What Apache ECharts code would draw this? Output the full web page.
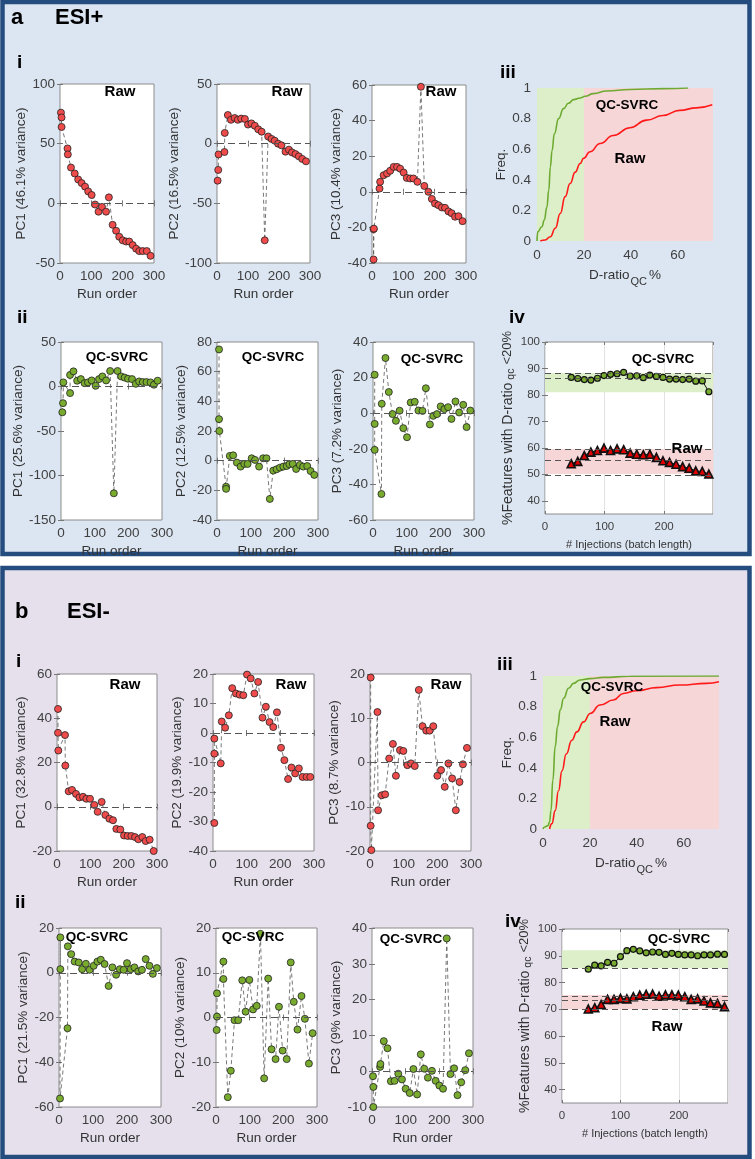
<!DOCTYPE html>
<html>
<head>
<meta charset="UTF-8">
<title>QC-SVRC PCA</title>
<script src="https://cdn.jsdelivr.net/npm/echarts@6/dist/echarts.min.js"></script>
<style>html,body{margin:0;padding:0;background:#fff}</style>
</head>
<body>
<div id="chart" style="width:755px;height:1159px;"></div>
<script>
// ESI+ PCA scores (run order, score)
var aRawPC1 = [[3,76],[5,72],[5,64],[24,46],[25,41],[35,30],[47,25],[58,20],[69,17],[80,14],[90,10],[101,7],[112,-1],[123,-7],[134,-3],[147,-7],[156,5],[168,-18],[179,-23],[189,-28],[200,-31],[211,-32],[221,-32],[232,-35],[243,-38],[253,-40],[264,-40],[277,-40],[289,-44]];
var aRawPC2 = [[2,-31],[4,-22],[5,-9],[24,-7],[25,9],[35,24],[45,20],[57,21.5],[67,20],[78,21],[90,20.7],[100,16],[111,17],[122,15],[133,12],[144,10],[154,-81],[165,6],[176,4],[186,2.5],[197,0],[208,-1.4],[221,-6.7],[232,-5],[242,-7.3],[253,-8.7],[264,-10.6],[275,-12.8],[287,-14.8]];
var aRawPC3 = [[5,-21],[5,-38],[6,-20.7],[24,1.8],[26,5.6],[37,9.3],[48,10.3],[58,11.8],[69,14],[80,14],[90,13],[101,10.8],[111,7.8],[122,7.5],[132,7.5],[145,5.6],[156,59],[167,3.3],[180,0],[191,-4],[201,-6.6],[212,-7.5],[223,-8.8],[233,-9],[244,-11],[254,-12],[265,-14],[276,-13.7],[289,-16.5]];
var aQcPC1 = [[4,-29],[6,-18.7],[7,4.6],[27,-7.4],[27,13],[37,17],[48,6.5],[59,8.3],[70,3.8],[80,4.6],[91,6.8],[103,0.8],[113,8.3],[123,11.3],[134,6.8],[146,17.4],[157,-120],[168,17.4],[179,11.3],[189,10],[199,8.7],[211,8.3],[222,3],[232,5.7],[243,5],[254,5],[266,4.6],[276,2],[287,6.5]];
var aQcPC2 = [[6,75],[6,28],[7,20],[27,-17.5],[27,-19],[38,3.2],[48,3.6],[59,-1.3],[70,-4],[81,-2.2],[91,-2.2],[103,1.6],[113,0.5],[125,-4],[137,1.6],[147,1.6],[157,-25.8],[167,-6.7],[177,-5.8],[187,-4.7],[197,-4],[207,-3.6],[215,-2.4],[225,-2.2],[235,-5.6],[246,-2.9],[256,-4],[268,-3.6],[278,-7],[289,-9.6]];
var aQcPC3 = [[5,21.6],[5,-6],[5,-20.6],[25,-45.4],[26,5.3],[37,31],[47,11.9],[58,-0.5],[68,-4.3],[79,1.4],[90,-8.4],[101,-13.5],[112,6],[124,6.4],[135,1.5],[147,1.3],[157,14],[169,-6.3],[179,-1.5],[190,-0.5],[201,3.8],[212,2.3],[223,3.4],[233,-3.2],[245,6.6],[256,0.4],[268,4.7],[278,-7.8],[289,1.5]];

// ESI- PCA scores
var bRawPC1 = [[3,44.2],[3,33.4],[4,25.4],[24,32.4],[25,18.6],[35,7],[45,7.6],[57,5.8],[67,4.2],[78,4.5],[88,3.6],[99,3.6],[112,0.8],[122,-2.3],[134,2.2],[145,-3.7],[157,-5.4],[168,-6.1],[178,-10],[190,-10.3],[201,-13],[212,-13.2],[223,-13.2],[234,-13.7],[244,-14.7],[256,-13.7],[266,-15.5],[278,-14.9],[290,-20]];
var bRawPC2 = [[4,-30.5],[4,-7],[4,-1.9],[23,-10.3],[26,3.9],[36,1.8],[47,6],[57,15.2],[68,13.4],[79,13],[90,12.8],[101,19.8],[112,18.5],[123,13.4],[134,17.3],[147,5.2],[157,8.9],[168,3.7],[179,2],[190,7],[202,-5],[212,-9.2],[223,-15.6],[233,-11.7],[244,-13.7],[255,-12],[266,-14.9],[278,-14.9],[289,-14.9]];
var bRawPC3 = [[2,19.2],[2,-14.3],[4,-19.8],[22,11.4],[24,-10.8],[35,-7.4],[45,-7.2],[57,0.9],[68,4.2],[77,-3],[89,2.8],[99,2.6],[111,-0.6],[122,-0.2],[133,-0.8],[145,16.4],[156,8.2],[167,7.2],[177,7.2],[188,8.2],[200,-3],[211,-1.7],[222,-5.5],[233,-0.2],[244,-3.6],[255,-10.8],[266,-4.4],[276,-0.4],[288,3.3]];
var bQcPC1 = [[4,1.6],[4,15.8],[3,-56.2],[25,-24.8],[26,11.8],[36,8.3],[46,5],[58,4.6],[68,1.6],[79,4],[90,1.3],[102,3.1],[113,5],[123,5.8],[134,3.9],[146,-5.9],[157,2.4],[168,-0.9],[179,1.6],[190,1.3],[200,4.3],[211,1.6],[222,2.4],[233,0.6],[244,1.3],[255,6.1],[266,3.1],[276,-0.5],[288,2.1]];
var bQcPC2 = [[2,-2.8],[3,0.2],[3,5.4],[22,12.5],[22,8.6],[35,-17.8],[44,-11.9],[55,-0.6],[66,-0.6],[78,8.3],[88,1.3],[99,8.4],[110,1.8],[121,2.6],[132,18.7],[143,-13.6],[155,8.7],[165,-7.1],[177,-9.3],[187,2.4],[198,-7.4],[210,-9.3],[222,12.3],[231,3.5],[242,-2.7],[254,4.8],[264,-0.3],[276,-10.3],[287,-3.5]];
var bQcPC3 = [[3,-1.4],[4,-4.4],[4,-10],[24,1.2],[25,2],[35,8.4],[46,6.4],[56,-2.8],[67,-2.7],[78,-0.7],[89,-2.3],[100,-4.9],[112,-6.1],[123,0.6],[134,-6.5],[145,4.7],[155,0.7],[166,-1.8],[178,0.1],[189,-2.7],[200,-4],[211,-4.9],[222,37.1],[233,-0.8],[244,0.8],[254,-6.7],[265,-3.1],[277,0.3],[288,5]];

// cumulative D-ratio distributions (D-ratio %, frequency)
var aCdfQc = [[0,0],[0.3,0.06],[2.1,0.093],[3.1,0.137],[4.2,0.22],[5,0.33],[5.7,0.485],[6.4,0.59],[7.4,0.7],[9.2,0.8],[11.3,0.865],[13.4,0.9],[15.6,0.924],[18.4,0.935],[20.5,0.946],[24,0.963],[29.7,0.98],[39.6,0.99],[53.7,0.996],[64.4,1]];
var aCdfRaw = [[1.4,0],[3.5,0.007],[5.7,0.028],[7.8,0.083],[9.9,0.18],[12,0.29],[14.1,0.376],[16.3,0.45],[18.4,0.507],[19.8,0.54],[22.6,0.583],[26.9,0.637],[32.5,0.69],[39.6,0.74],[46.7,0.79],[53.7,0.82],[60.8,0.854],[67.9,0.87],[74.7,0.89]];
var bCdfQc = [[0,0],[0.6,0.013],[2.1,0.022],[2.8,0.046],[3.4,0.12],[4.2,0.32],[5.2,0.54],[6.2,0.67],[7.4,0.78],[8.8,0.855],[10.9,0.92],[13,0.952],[15.8,0.974],[20,0.983],[25.7,0.991],[37,0.998],[75,1]];
var bCdfRaw = [[2.8,0],[3.8,0.035],[5.2,0.12],[6.6,0.25],[8.1,0.38],[9.9,0.49],[12.3,0.58],[14.4,0.635],[17.3,0.7],[20.1,0.755],[24.3,0.81],[30,0.843],[34.2,0.886],[39.9,0.904],[48.4,0.924],[58.3,0.941],[69.6,0.952],[75,0.963]];

// % features with D-ratio < 20% vs batch length
var aInj = [44,55,66,77,88,99,110,121,132,143,154,165,176,187,198,209,220,231,242,253,264,275];
var aIvQc = [86.6,86.2,85.8,85.6,86.3,87.3,87.8,88,88.5,87.1,87.2,86.5,87.5,87,86.6,86,86,85.8,86,85.2,85.3,81.2];
var aIvRaw = [54,54.9,57.1,58.4,59,59.9,59,59.6,59.3,58,57.6,57.4,57.6,56.4,55.1,54.5,53.8,52.9,52.3,51.3,51.1,50.1];
var bInj = [45,56,67,78,89,100,111,122,133,144,155,166,177,188,199,210,221,232,243,254,266,278];
var bIvQc = [85,86.5,86.2,87.5,87.2,89.7,91.9,92.4,91.8,91.1,91.4,91.3,90.5,90.9,90.5,90.3,90.3,90,90.3,90.3,90.6,90.5];
var bIvRaw = [70.1,70.6,71.8,73.7,73.7,74.1,73.9,74.7,75.3,75.6,75.7,74.9,75.4,75.4,75.3,74.7,73.7,73.9,73.1,72.4,72.2,71];
var ivTicks = [40,50,60,70,80,90,100];

var FF = '"Liberation Sans", Arial, Helvetica, sans-serif';
var TICK = '#404040';
var RED = '#ef4b4b', GREEN = '#78ab2e';
var BAND_G = '#dcefc8', BAND_R = '#f7d6d8';

var grids = [], xAxes = [], yAxes = [], series = [], graphics = [];

function txt(s, x, y, size, align) {
  graphics.push({type: 'text', z: 100, style: {
    text: s, x: x, y: y, font: 'bold ' + size + 'px ' + FF, fill: '#000',
    textAlign: align || 'center', textVerticalAlign: 'middle',
    align: align || 'center', verticalAlign: 'middle'
  }});
}

function addGrid(r, boxed) {
  grids.push({left: r[0], top: r[1], width: r[2] - r[0], height: r[3] - r[1],
    show: boxed, backgroundColor: '#fff', borderColor: '#8c8c8c', borderWidth: 1});
  return grids.length - 1;
}

// MATLAB-style ticks on top / right of the box
function mirror(i, xa, ya) {
  var tick = {inside: true, length: 3, lineStyle: {color: '#777'}};
  xAxes.push({gridIndex: i, type: 'value', position: 'top', min: xa.min, max: xa.max, interval: xa.interval,
    axisLine: {show: false}, axisLabel: {show: false}, splitLine: {show: false}, axisTick: tick});
  yAxes.push({gridIndex: i, type: 'value', position: 'right', min: ya.min, max: ya.max, interval: ya.interval,
    axisLine: {show: false}, axisLabel: {show: false}, splitLine: {show: false},
    axisTick: ya.axisTick && ya.axisTick.customValues ? Object.assign({customValues: ya.axisTick.customValues}, tick) : tick});
}

function pcPlot(r, data, ylim, yName, yGap, fill) {
  var i = addGrid(r, true);
  var xi = xAxes.length, yi = yAxes.length;
  var xa = {gridIndex: i, type: 'value', min: 0, max: 300, interval: 100,
    axisLine: {show: false}, splitLine: {show: false},
    axisTick: {inside: true, length: 3, lineStyle: {color: '#777'}},
    axisLabel: {fontSize: 13.5, color: TICK, fontFamily: FF, margin: 6},
    name: 'Run order', nameLocation: 'middle', nameGap: 24,
    nameTextStyle: {fontSize: 13.5, color: '#333', fontFamily: FF}};
  var ya = {gridIndex: i, type: 'value', min: ylim[0], max: ylim[1], interval: ylim[2],
    axisLine: {show: false}, splitLine: {show: false},
    axisTick: {inside: true, length: 3, lineStyle: {color: '#777'}},
    axisLabel: {fontSize: 13.5, color: TICK, fontFamily: FF, margin: 5},
    name: yName, nameLocation: 'middle', nameGap: yGap,
    nameTextStyle: {fontSize: 13.5, color: '#333', fontFamily: FF}};
  xAxes.push(xa); yAxes.push(ya);
  mirror(i, xa, ya);
  series.push({type: 'line', xAxisIndex: xi, yAxisIndex: yi, data: data, clip: false,
    symbol: 'circle', symbolSize: 7, showAllSymbol: true,
    itemStyle: {color: fill, borderColor: '#222', borderWidth: 0.8},
    lineStyle: {color: '#555', width: 0.8, type: [4, 3]},
    markLine: {silent: true, symbol: 'none', label: {show: false},
      lineStyle: {color: '#555', type: [7, 4], width: 1}, data: [{yAxis: 0}]}});
}

function cdfPlot(r, qc, raw) {
  var i = addGrid(r, false);
  var xi = xAxes.length, yi = yAxes.length;
  xAxes.push({gridIndex: i, type: 'value', min: 0, max: 75, interval: 20,
    axisLine: {show: false}, axisTick: {show: false}, splitLine: {show: false},
    axisLabel: {fontSize: 13.5, color: TICK, fontFamily: FF, margin: 7, showMaxLabel: false},
    name: '{n|D-ratio}{s|QC}{n|%}', nameLocation: 'middle', nameGap: 22,
    nameTextStyle: {color: '#333', fontFamily: FF, rich: {
      n: {fontSize: 13.5, color: '#333', lineHeight: 24, verticalAlign: 'middle', fontFamily: FF},
      s: {fontSize: 11, color: '#333', lineHeight: 24, verticalAlign: 'bottom', fontFamily: FF, padding: [0, 2, 0, 1]}}}});
  yAxes.push({gridIndex: i, type: 'value', min: 0, max: 1, interval: 0.2,
    axisLine: {show: false}, axisTick: {show: false}, splitLine: {show: false},
    axisLabel: {fontSize: 13.5, color: TICK, fontFamily: FF, margin: 6},
    name: 'Freq.', nameLocation: 'middle', nameGap: 24,
    nameTextStyle: {fontSize: 13.5, color: '#333', fontFamily: FF}});
  series.push({type: 'line', xAxisIndex: xi, yAxisIndex: yi, data: raw, showSymbol: false,
    smooth: true, smoothMonotone: 'x', lineStyle: {color: '#ff1a1a', width: 1.6},
    markArea: {silent: true, data: [
      [{xAxis: 0, itemStyle: {color: BAND_G}}, {xAxis: 20}],
      [{xAxis: 20, itemStyle: {color: BAND_R}}, {xAxis: 75}]]}});
  series.push({type: 'line', xAxisIndex: xi, yAxisIndex: yi, data: qc, showSymbol: false,
    smooth: true, smoothMonotone: 'x', lineStyle: {color: '#6eaa32', width: 1.6}});
}

function dashes(vals) {
  return {silent: true, symbol: 'none', label: {show: false},
    lineStyle: {color: '#555', type: [6, 4], width: 1},
    data: vals.map(function (v) { return {yAxis: v}; })};
}

function ivPlot(r, xmax, xs, qc, raw, qcBand, qcDash, rawBand, rawDash) {
  var i = addGrid(r, true);
  var xi = xAxes.length, yi = yAxes.length;
  var xa = {gridIndex: i, type: 'value', min: 0, max: xmax, interval: 100,
    axisLine: {show: false},
    splitLine: {show: true, lineStyle: {color: '#e2e2e2'}},
    axisTick: {inside: true, length: 3, lineStyle: {color: '#777'}},
    axisLabel: {fontSize: 11.5, color: TICK, fontFamily: FF, margin: 7, showMaxLabel: false},
    name: '# Injections (batch length)', nameLocation: 'middle', nameGap: 25,
    nameTextStyle: {fontSize: 11, color: '#333', fontFamily: FF}};
  var ya = {gridIndex: i, type: 'value', min: 35, max: 100,
    axisLine: {show: false}, splitLine: {show: false},
    axisTick: {inside: true, length: 3, customValues: ivTicks, lineStyle: {color: '#777'}},
    axisLabel: {fontSize: 11.5, color: TICK, fontFamily: FF, margin: 5, customValues: ivTicks},
    name: '{n|%Features with D-ratio}{s|qc}{u|<20%}', nameLocation: 'middle', nameGap: 22,
    nameTextStyle: {color: '#333', fontFamily: FF, rich: {
      n: {fontSize: 14, color: '#333', lineHeight: 18, verticalAlign: 'middle', fontFamily: FF},
      s: {fontSize: 10.5, color: '#333', lineHeight: 18, verticalAlign: 'bottom', fontFamily: FF, padding: [0, 4, 0, 3]},
      u: {fontSize: 13, color: '#333', lineHeight: 18, verticalAlign: 'middle', fontFamily: FF}}}};
  xAxes.push(xa); yAxes.push(ya);
  mirror(i, xa, ya);
  series.push({type: 'line', xAxisIndex: xi, yAxisIndex: yi,
    data: xs.map(function (x, k) { return [x, raw[k]]; }),
    symbol: 'triangle', symbolSize: 8, showAllSymbol: true,
    itemStyle: {color: '#e00000', borderColor: '#111', borderWidth: 1.6},
    lineStyle: {color: '#111', width: 1},
    markArea: {silent: true, data: [
      [{yAxis: qcBand[0], itemStyle: {color: BAND_G}}, {yAxis: qcBand[1]}],
      [{yAxis: rawBand[0], itemStyle: {color: BAND_R}}, {yAxis: rawBand[1]}]]},
    markLine: dashes(qcDash.concat(rawDash))});
  series.push({type: 'line', xAxisIndex: xi, yAxisIndex: yi,
    data: xs.map(function (x, k) { return [x, qc[k]]; }),
    symbol: 'circle', symbolSize: 6, showAllSymbol: true,
    itemStyle: {color: GREEN, borderColor: '#111', borderWidth: 1.2},
    lineStyle: {color: '#111', width: 1}});
}

// panel backgrounds
graphics.push({type: 'rect', z: -10, shape: {x: 2.5, y: 2, width: 747, height: 552},
  style: {fill: '#dce6f2', stroke: '#244c7f', lineWidth: 4.5}});
graphics.push({type: 'rect', z: -10, shape: {x: 2.5, y: 568, width: 747, height: 589},
  style: {fill: '#e5e0ec', stroke: '#244c7f', lineWidth: 4.5}});

// ---- ESI+ ----
pcPlot([60, 84, 154, 263], aRawPC1, [-50, 100, 50], 'PC1 (46.1% variance)', 28, RED);
pcPlot([217, 84, 310, 263], aRawPC2, [-100, 50, 50], 'PC2 (16.5% variance)', 33, RED);
pcPlot([372, 85, 466, 263], aRawPC3, [-40, 60, 20], 'PC3 (10.4% variance)', 28, RED);
pcPlot([61, 342, 162, 520], aQcPC1, [-150, 50, 50], 'PC1 (25.6% variance)', 35, GREEN);
pcPlot([217, 342, 318, 520], aQcPC2, [-40, 80, 20], 'PC2 (12.5% variance)', 28, GREEN);
pcPlot([373, 342, 474, 520], aQcPC3, [-60, 40, 20], 'PC3 (7.2% variance)', 29, GREEN);
cdfPlot([537, 88, 713, 241], aCdfQc, aCdfRaw);
ivPlot([545, 342, 713, 514], 282, aInj, aIvQc, aIvRaw, [81, 88.3], [88.3, 86.2], [50.1, 59.6], [59.6, 55.5, 49.7]);

// ---- ESI- ----
pcPlot([57, 674, 157, 851], bRawPC1, [-20, 60, 20], 'PC1 (32.8% variance)', 28, RED);
pcPlot([213, 674, 314, 851], bRawPC2, [-40, 20, 10], 'PC2 (19.9% variance)', 29, RED);
pcPlot([370, 674, 471, 851], bRawPC3, [-20, 20, 10], 'PC3 (8.7% variance)', 28, RED);
pcPlot([59, 928, 161, 1107], bQcPC1, [-60, 20, 20], 'PC1 (21.5% variance)', 28, GREEN);
pcPlot([216, 928, 317, 1107], bQcPC2, [-20, 20, 10], 'PC2 (10% variance)', 29, GREEN);
pcPlot([372, 928, 473, 1107], bQcPC3, [-10, 40, 10], 'PC3 (9% variance)', 28, GREEN);
cdfPlot([543, 676, 719, 829], bCdfQc, bCdfRaw);
ivPlot([562, 929, 728, 1103], 284, bInj, bIvQc, bIvRaw, [85.3, 92.1], [85.3], [70, 75.3], [75, 73.2, 70]);

// panel and plot labels
txt('a', 11, 18, 22, 'left'); txt('ESI+', 55, 18, 22, 'left');
txt('i', 17, 63, 19, 'left'); txt('ii', 17, 318, 19, 'left');
txt('iii', 500, 73, 19, 'left'); txt('iv', 509, 318, 19, 'left');
txt('b', 15, 612, 22, 'left'); txt('ESI-', 67, 612, 22, 'left');
txt('i', 16, 662, 19, 'left'); txt('ii', 15, 903, 19, 'left');
txt('iii', 497, 665, 19, 'left'); txt('iv', 505, 922, 19, 'left');

txt('Raw', 120, 92, 15); txt('Raw', 287, 92, 15); txt('Raw', 441, 92, 15);
txt('QC-SVRC', 117, 357, 13.5); txt('QC-SVRC', 273, 357, 13.5); txt('QC-SVRC', 432, 359, 13.5);
txt('QC-SVRC', 627, 105, 13.5); txt('Raw', 630, 159, 15);
txt('QC-SVRC', 663, 359, 13.5); txt('Raw', 687, 449, 15);
txt('Raw', 125, 685, 15); txt('Raw', 291, 685, 15); txt('Raw', 446, 685, 15);
txt('QC-SVRC', 97, 937, 13.5); txt('QC-SVRC', 253, 937, 13.5); txt('QC-SVRC', 411, 939, 13.5);
txt('QC-SVRC', 612, 687, 13.5); txt('Raw', 615, 722, 15);
txt('QC-SVRC', 679, 939, 13.5); txt('Raw', 667, 1027, 15);

var chart = echarts.init(document.getElementById('chart'));
chart.setOption({
  animation: false,
  backgroundColor: '#fff',
  textStyle: {fontFamily: FF},
  grid: grids,
  xAxis: xAxes,
  yAxis: yAxes,
  series: series,
  graphic: {elements: graphics}
});
</script>
</body>
</html>
